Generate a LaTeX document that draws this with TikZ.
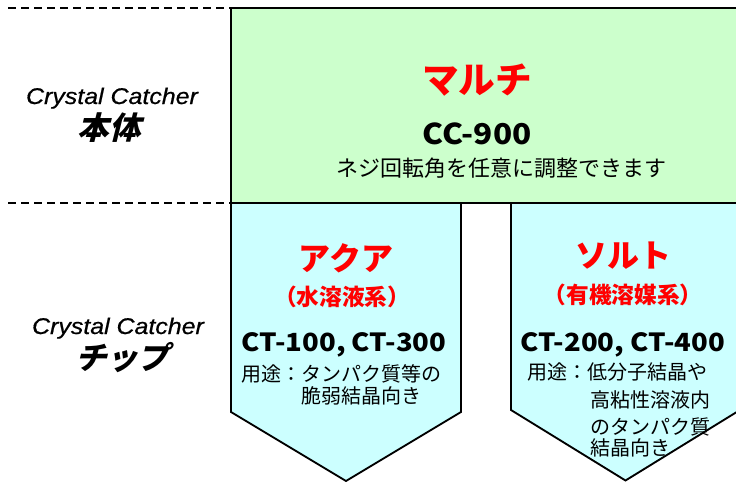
\documentclass[tikz,border=0pt]{standalone}
\usepackage{fontspec}
\newfontfamily\jp{Noto Sans CJK JP}
\newfontfamily\mdl[FakeStretch=1.1]{Noto Sans CJK JP}
\newfontfamily\jpsl[FakeSlant=0.25]{Noto Sans CJK JP}
\newfontfamily\crys[FakeStretch=1.1,FakeBold=0.6]{Liberation Sans}
\definecolor{mint}{HTML}{CCFFCC}
\definecolor{aqua}{HTML}{CCFFFF}
\definecolor{redtxt}{HTML}{FF0000}
\tikzset{
  boxline/.style={draw=black, line width=1.4pt, line join=miter},
  guide/.style={draw=black, line width=1.1pt, dash pattern=on 6pt off 3.75pt},
  lbl/.style={inner sep=0pt, anchor=base},
  title/.style={lbl, text=redtxt, font=\jp\bfseries\fontsize{27.5pt}{30pt}\selectfont},
  titleb/.style={lbl, text=redtxt, font=\jp\bfseries\fontsize{24pt}{27pt}\selectfont},
  sub/.style={lbl, text=redtxt, font=\jp\bfseries\fontsize{17pt}{20pt}\selectfont},
  modelbig/.style={lbl, font=\mdl\bfseries\fontsize{21.5pt}{24pt}\selectfont},
  model/.style={lbl, font=\mdl\bfseries\fontsize{18.75pt}{22pt}\selectfont},
  usetext/.style={inner sep=0pt, anchor=base west, font=\jp\fontsize{15pt}{18pt}\selectfont},
  crystal/.style={lbl, font=\crys\itshape\fontsize{17pt}{20pt}\selectfont},
  side/.style={lbl, font=\jpsl\bfseries\fontsize{23.5pt}{26pt}\selectfont},
}
\begin{document}
\begin{tikzpicture}[x=0.75pt,y=-0.75pt]
\useasboundingbox (0,0) rectangle (736,482);
% guides
\draw[guide] (8,8) -- (231,8);
\draw[guide] (8,203) -- (231,203);
% body box
\path[boxline, fill=mint] (231,8) rectangle (770,203);
% chips
\path[boxline, fill=aqua] (231,203) -- (461,203) -- (461,412) -- (346,481) -- (231,412) -- cycle;
\path[boxline, fill=aqua] (511,203) -- (740,203) -- (740,410) -- (625.5,480.5) -- (511,410) -- cycle;
% left labels
\node[crystal] (c1) at (112,104) {Crystal Catcher};
\node[side] (s1) at (109,139) {本体};
\node[crystal] (c2) at (118,334) {Crystal Catcher};
\node[side] (s2) at (122,369) {チップ};
% body texts
\node[title] (multi) at (477,93) {マルチ};
\node[modelbig] (cc) at (477,144) {CC-900};
\node[lbl, font=\jp\fontsize{16.5pt}{19pt}\selectfont] (desc) at (501.5,176) {ネジ回転角を任意に調整できます};
% aqua chip
\node[titleb] (aqua) at (346,270) {アクア};
\node[sub] (aquasub) at (342,305) {（水溶液系）};
\node[model] (ct1) at (344,351) {CT-100, CT-300};
\node[usetext] (u1) at (241.5,381) {用途：タンパク質等の};
\node[usetext] (u2) at (301.5,403) {脆弱結晶向き};
% salt chip
\node[titleb] (salt) at (623,267) {ソルト};
\node[sub] (saltsub) at (623,303) {（有機溶媒系）};
\node[model] (ct2) at (622.5,351) {CT-200, CT-400};
\node[usetext] (v1) at (527,379.5) {用途：低分子結晶や};
\node[usetext] (v2) at (590,407) {高粘性溶液内};
\node[usetext] (v3) at (590,434.5) {のタンパク質};
\node[usetext] (v4) at (590,455) {結晶向き};
\end{tikzpicture}
\end{document}
